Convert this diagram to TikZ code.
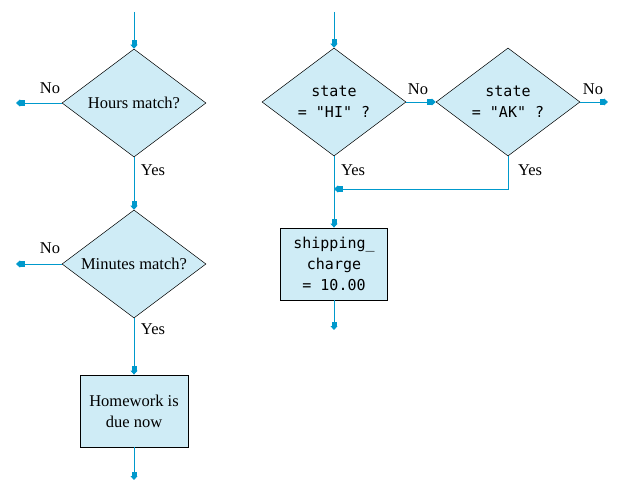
\documentclass[tikz,border=0pt]{standalone}
\usepackage{fontspec}
\setmainfont{Liberation Serif}
\setmonofont{DejaVu Sans Mono}
\usetikzlibrary{shapes.geometric,arrows.meta}
\definecolor{boxfill}{RGB}{207,236,246}
\definecolor{flow}{RGB}{0,153,204}
\tikzset{
  decision/.style={diamond,draw,line width=0.5pt,fill=boxfill,shape aspect=1.333,
    minimum width=144pt,minimum height=108pt,inner sep=0pt,align=center},
  process/.style={rectangle,draw,line width=0.8pt,fill=boxfill,align=center,
    minimum width=108pt,minimum height=72pt,inner sep=0pt},
  flowarrow/.style={draw=flow,line width=0.9pt,
    -{Rectangle[length=4.5pt,width=5pt]Triangle[length=4pt,width=7pt]}},
  answer/.style={inner sep=0pt},
  code/.style={font=\fontsize{15pt}{21pt}\selectfont\ttfamily},
}
\begin{document}
\begin{tikzpicture}[x=1pt,y=1pt,font=\fontsize{16.5pt}{21pt}\selectfont]
\useasboundingbox (0,0) rectangle (629,-486);
% left: hours and minutes
\node[decision] (hours) at (134,-103) {Hours match?};
\node[decision] (minutes) at (134,-264) {Minutes match?};
\node[process] (due) at (134,-411) {Homework is\\due now};
\coordinate (hoursin) at (134,-12);
\coordinate (hoursno) at (16,-103);
\coordinate (minutesno) at (16,-264);
\coordinate (dueout) at (134,-480);
\draw[flowarrow] (hoursin) -- (hours.north);
\draw[flowarrow] (hours.west) -- (hoursno);
\draw[flowarrow] (hours.south) -- (minutes.north);
\draw[flowarrow] (minutes.west) -- (minutesno);
\draw[flowarrow] (minutes.south) -- (due.north);
\draw[flowarrow] (due.south) -- (dueout);
\node[answer] (hoursnotext) at (50,-88) {No};
\node[answer] (hoursyestext) at (153,-170) {Yes};
\node[answer] (minutesnotext) at (50,-248) {No};
\node[answer] (minutesyestext) at (153,-329) {Yes};
% right: state tests
\node[decision,code] (hi) at (334,-102) {state\\= "HI" ?};
\node[decision,code] (ak) at (508,-102) {state\\= "AK" ?};
\node[process,code,minimum width=107pt] (charge) at (334,-264) {shipping\_\\charge\\= 10.00};
\coordinate (hiin) at (334,-12);
\coordinate (akno) at (608,-102);
\coordinate (merge) at (334,-189);
\coordinate (chargeout) at (334,-330);
\draw[flowarrow] (hiin) -- (hi.north);
\draw[flowarrow] (hi.east) -- (ak.west);
\draw[flowarrow] (ak.east) -- (akno);
\draw[flowarrow] (ak.south) |- (merge);
\draw[flowarrow] (hi.south) -- (charge.north);
\draw[flowarrow] (charge.south) -- (chargeout);
\node[answer] (hinotext) at (418,-89) {No};
\node[answer] (aknotext) at (593,-89) {No};
\node[answer] (hiyestext) at (353,-170) {Yes};
\node[answer] (akyestext) at (530,-170) {Yes};
\end{tikzpicture}
\end{document}
